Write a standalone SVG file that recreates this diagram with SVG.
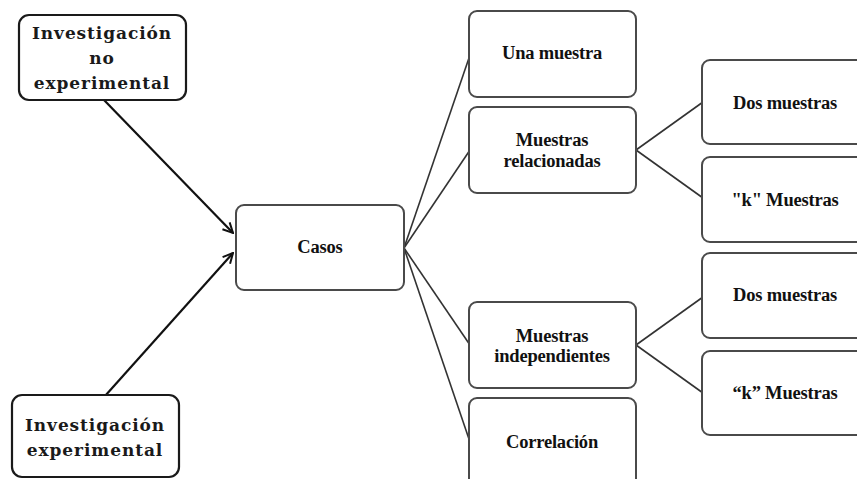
<svg xmlns="http://www.w3.org/2000/svg" width="857" height="479" viewBox="0 0 857 479">
<style>
.bg{fill:#fff}
.box{fill:#fff;stroke:#4a4a4a;stroke-width:2}
.box2{fill:#fff;stroke:#1a1a1a;stroke-width:2.2}
.t{font-family:"Liberation Serif","Times New Roman",serif;font-weight:bold;font-size:18.5px;fill:#111;text-anchor:middle;dominant-baseline:central;letter-spacing:-0.2px}
.f{font-family:"DejaVu Serif",serif;font-weight:bold;font-size:17px;fill:#1a1a1a;text-anchor:middle;dominant-baseline:central;letter-spacing:0.9px}
.ln{stroke:#333;stroke-width:1.6;fill:none}
.ar{stroke:#111;stroke-width:2.2;fill:none}
</style>
<defs>
<marker id="arr" viewBox="0 0 12 12" refX="11" refY="6" markerWidth="12" markerHeight="12" markerUnits="userSpaceOnUse" orient="auto">
<path d="M1,1 L11,6 L1,11" fill="none" stroke="#111" stroke-width="2"/>
</marker>
</defs>
<rect class="bg" x="0" y="0" width="857" height="479"/>
<g id="connectors">
<line class="ar" x1="104" y1="100" x2="233" y2="233" marker-end="url(#arr)"/>
<line class="ar" x1="105" y1="396" x2="233" y2="253" marker-end="url(#arr)"/>
<line class="ln" x1="404" y1="248" x2="470" y2="55"/>
<line class="ln" x1="404" y1="248" x2="470" y2="150"/>
<line class="ln" x1="404" y1="248" x2="470" y2="345"/>
<line class="ln" x1="404" y1="248" x2="470" y2="442"/>
<line class="ln" x1="636" y1="150" x2="703" y2="102"/>
<line class="ln" x1="636" y1="150" x2="703" y2="198"/>
<line class="ln" x1="636" y1="345" x2="703" y2="297"/>
<line class="ln" x1="636" y1="345" x2="703" y2="393"/>
</g>
<g id="inv-no-exp">
<rect class="box2" x="19" y="15" width="167" height="85" rx="10"/>
<text class="f" x="102" y="33">Investigación</text>
<text class="f" x="102" y="58">no</text>
<text class="f" x="102" y="83">experimental</text>
</g>
<g id="inv-exp">
<rect class="box2" x="12" y="395" width="167" height="82" rx="10"/>
<text class="f" x="95" y="425">Investigación</text>
<text class="f" x="95" y="450">experimental</text>
</g>
<g id="casos">
<rect class="box" x="236" y="205" width="168" height="85" rx="8"/>
<text class="t" x="320" y="247">Casos</text>
</g>
<g id="una">
<rect class="box" x="469" y="11" width="167" height="86" rx="8"/>
<text class="t" x="552" y="53">Una muestra</text>
</g>
<g id="relacionadas">
<rect class="box" x="469" y="107" width="167" height="86" rx="8"/>
<text class="t" x="552" y="140">Muestras</text>
<text class="t" x="552" y="161">relacionadas</text>
</g>
<g id="independientes">
<rect class="box" x="469" y="302" width="167" height="86" rx="8"/>
<text class="t" x="552" y="336">Muestras</text>
<text class="t" x="552" y="356">independientes</text>
</g>
<g id="correlacion">
<rect class="box" x="469" y="398" width="167" height="90" rx="8"/>
<text class="t" x="552" y="442">Correlación</text>
</g>
<g id="dos1">
<rect class="box" x="702" y="60" width="167" height="84" rx="8"/>
<text class="t" x="785" y="103">Dos muestras</text>
</g>
<g id="k1">
<rect class="box" x="702" y="157" width="167" height="85" rx="8"/>
<text class="t" x="785" y="200">"k" Muestras</text>
</g>
<g id="dos2">
<rect class="box" x="702" y="253" width="167" height="85" rx="8"/>
<text class="t" x="785" y="295">Dos muestras</text>
</g>
<g id="k2">
<rect class="box" x="702" y="351" width="167" height="84" rx="8"/>
<text class="t" x="785" y="393">“k” Muestras</text>
</g>
</svg>
